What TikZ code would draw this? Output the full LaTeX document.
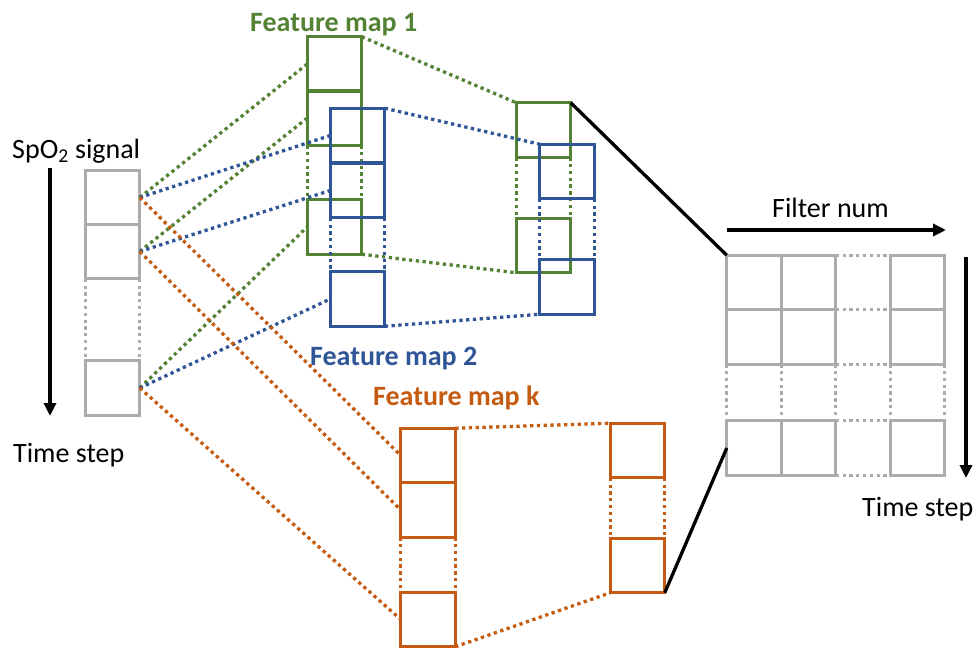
\documentclass[tikz,border=0pt]{standalone}
\usepackage{fontspec}
\setmainfont{Carlito}
\usetikzlibrary{arrows.meta}
\definecolor{cgreen}{HTML}{548235}
\definecolor{cblue}{HTML}{2F5597}
\definecolor{corange}{HTML}{C55A11}
\definecolor{cgray}{HTML}{AFABAB}
\tikzset{
  cell/.style={draw, line width=3.3pt, minimum width=54.5pt, minimum height=54.5pt, inner sep=0pt, outer sep=0pt},
  graycell/.style={cell, draw=cgray},
  greencell/.style={cell, draw=cgreen},
  bluecell/.style={cell, draw=cblue},
  orangecell/.style={cell, draw=corange},
  dotl/.style={line width=3.3pt, dash pattern=on 3.3pt off 3.5pt},
  graydot/.style={dotl, draw=cgray},
  greendot/.style={dotl, draw=cgreen},
  bluedot/.style={dotl, draw=cblue},
  orangedot/.style={dotl, draw=corange},
  blackline/.style={line width=3.3pt, draw=black},
  axisarrow/.style={line width=3.3pt, -{Triangle[length=13pt,width=12pt]}},
  lbl/.style={font=\fontsize{28}{32}\selectfont, inner sep=0pt, anchor=base west},
  blbl/.style={lbl, font=\fontsize{28}{32}\selectfont\bfseries}
}
\begin{document}
\begin{tikzpicture}[x=1pt,y=-1pt]
\useasboundingbox (0,0) rectangle (974,650);

% input column
\node[graycell] (in1) at (112.5,197.5) {};
\node[graycell] (in2) at (112.5,251.5) {};
\node[graycell] (in4) at (112.5,388) {};
\draw[graydot] (in2.south west) -- (in4.north west);
\draw[graydot] (in2.south east) -- (in4.north east);

% feature map 1 (green), column 1
\node[greencell] (g1) at (334.5,64) {};
\node[greencell] (g2) at (334.5,118) {};
\node[greencell] (g4) at (334.5,227) {};
\draw[greendot] (g2.south west) -- (g4.north west);
\draw[greendot] (g2.south east) -- (g4.north east);

% feature map 2 (blue), column 1
\node[bluecell] (b1) at (357.5,135.5) {};
\node[bluecell] (b2) at (357.5,190.5) {};
\node[bluecell] (b4) at (357.5,299) {};
\draw[bluedot] (b2.south west) -- (b4.north west);
\draw[bluedot] (b2.south east) -- (b4.north east);

% green column 2
\node[greencell] (gg1) at (543.5,130) {};
\node[greencell] (gg3) at (543.5,245.5) {};
\draw[greendot] (gg1.south west) -- (gg3.north west);
\draw[greendot] (gg1.south east) -- (gg3.north east);

% blue column 2
\node[bluecell] (bb1) at (567,171.5) {};
\node[bluecell] (bb3) at (567,287) {};
\draw[bluedot] (bb1.south west) -- (bb3.north west);
\draw[bluedot] (bb1.south east) -- (bb3.north east);

% feature map k (orange)
\node[orangecell] (o1) at (428,455.5) {};
\node[orangecell] (o2) at (428,510) {};
\node[orangecell] (o4) at (428,619.5) {};
\draw[orangedot] (o2.south west) -- (o4.north west);
\draw[orangedot] (o2.south east) -- (o4.north east);

\node[orangecell] (oo1) at (637.5,450.5) {};
\node[orangecell] (oo3) at (637.5,565.5) {};
\draw[orangedot] (oo1.south west) -- (oo3.north west);
\draw[orangedot] (oo1.south east) -- (oo3.north east);

% output grid
\foreach \c/\x in {1/754,2/808.5,4/917.5}{
  \foreach \r/\y in {1/282.5,2/337,4/448}{
    \node[graycell] (r\r c\c) at (\x,\y) {};
  }
}
\draw[graydot] (r1c2.north east) -- (r1c4.north west);
\draw[graydot] (r1c2.south east) -- (r1c4.south west);
\draw[graydot] (r2c2.south east) -- (r2c4.south west);
\draw[graydot] (r4c2.north east) -- (r4c4.north west);
\draw[graydot] (r4c2.south east) -- (r4c4.south west);
\draw[graydot] (r2c1.south west) -- (r4c1.north west);
\draw[graydot] (r2c2.south west) -- (r4c2.north west);
\draw[graydot] (r2c2.south east) -- (r4c2.north east);
\draw[graydot] (r2c4.south west) -- (r4c4.north west);
\draw[graydot] (r2c4.south east) -- (r4c4.north east);

% connectors input -> feature maps
\draw[greendot] (in1.east) -- (g1.west);
\draw[greendot] (in2.east) -- (g2.west);
\draw[greendot] (in4.east) -- (g4.west);
\draw[bluedot] (in1.east) -- (b1.west);
\draw[bluedot] (in2.east) -- (b2.west);
\draw[bluedot] (in4.east) -- (b4.west);
\draw[orangedot] (in1.east) -- (o1.west);
\draw[orangedot] (in2.east) -- (o2.west);
\draw[orangedot] (in4.east) -- (o4.west);

% connectors between columns
\draw[greendot] (g1.north east) -- (gg1.north west);
\draw[greendot] (g4.south east) -- (gg3.south west);
\draw[bluedot] (b1.north east) -- (bb1.north west);
\draw[bluedot] (b4.south east) -- (bb3.south west);
\draw[orangedot] (o1.north east) -- (oo1.north west);
\draw[orangedot] (o4.south east) -- (oo3.south west);

% black lines to grid
\draw[blackline] (gg1.north east) -- (r1c1.north west);
\draw[blackline] (oo3.south east) -- (r4c1.west);

% axes
\coordinate (la1) at (50,168);
\coordinate (la2) at (50,416);
\draw[axisarrow] (la1) -- (la2);
\coordinate (ta1) at (727,230);
\coordinate (ta2) at (946,230);
\draw[axisarrow] (ta1) -- (ta2);
\coordinate (ra1) at (966,257);
\coordinate (ra2) at (966,478);
\draw[axisarrow] (ra1) -- (ra2);

% labels
\node[lbl] (tsig) at (12,158) {SpO\textsubscript{2} signal};
\node[lbl] (tts1) at (13,462) {Time step};
\node[lbl] (tfn) at (772,217) {Filter num};
\node[lbl] (tts2) at (862,516) {Time step};
\node[blbl, text=cgreen] (tf1) at (250,32) {Feature map 1};
\node[blbl, text=cblue] (tf2) at (310,365) {Feature map 2};
\node[blbl, text=corange] (tfk) at (373,405) {Feature map k};
\end{tikzpicture}
\end{document}
